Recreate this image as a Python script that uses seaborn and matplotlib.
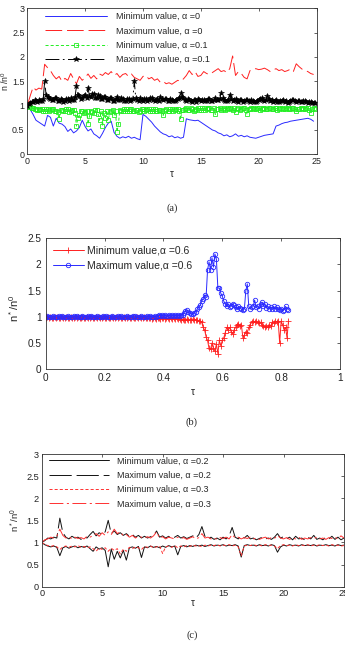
import numpy as np
import matplotlib
matplotlib.use("Agg")
import matplotlib.pyplot as plt
import seaborn as sns

sns.set_style("white")
plt.rcParams['font.family'] = ['Liberation Sans', 'DejaVu Sans']
plt.rcParams['mathtext.fontset'] = 'custom'
plt.rcParams['mathtext.rm'] = 'Liberation Sans'
plt.rcParams['mathtext.it'] = 'Liberation Sans:italic'
plt.rcParams['lines.scale_dashes'] = False

# ---------------- data (a) ----------------
a_step = 0.25
a_min0 = [1.00, 0.92, 0.82, 0.70, 0.66, 0.62, 0.58, 0.80, 0.76, 0.58,
          0.74, 0.64, 0.62, 0.57, 0.47, 0.52, 0.44, 0.48, 0.55, 0.70,
          0.57, 0.48, 0.52, 0.42, 0.38, 0.33, 0.43, 0.55, 0.64, 0.68,
          0.45, 0.37, 0.33, 0.36, 0.34, 0.37, 0.33, 0.35, 0.32, 0.30,
          0.82, 0.78, 0.72, 0.66, 0.58, 0.52, 0.46, 0.42, 0.40, 0.36,
          0.38, 0.34, 0.36, 0.33, 0.35, 0.73, 0.71, 0.70, 0.69, 0.70,
          0.66, 0.62, 0.58, 0.54, 0.50, 0.48, 0.44, 0.42, 0.38, 0.40,
          0.36, 0.38, 0.42, 0.37, 0.39, 0.36, 0.38, 0.35, 0.34, 0.33,
          0.35, 0.37, 0.39, 0.40, 0.41, 0.42, 0.58, 0.60, 0.63, 0.65,
          0.66, 0.68, 0.69, 0.70, 0.71, 0.72, 0.73, 0.74, 0.72, 0.68]
a_max0 = [1.00, 1.20, 1.38, 1.32, 1.36, 1.34, 1.85, 1.78, 1.72, 1.62,
          1.55, 1.60, 1.50, 1.56, 1.52, 1.66, 1.55, 1.45, 1.60, 1.52,
          1.58, 1.65, 1.56, 1.62, 1.55, 1.65, 1.62, 1.68, 1.64, 1.70,
          1.62, 1.66, 1.58, 1.64, 1.66, 1.60, 1.65, 1.58, 1.55, 1.52,
          1.60, 1.62, 1.55, 1.58, 1.52, 1.55, 1.48, 1.50, 1.45, 1.47,
          1.44, 1.48, 1.52, 1.50, 1.55, 1.62, 1.72, 1.64, 1.70, 1.60,
          1.62, 1.70, 1.66, 1.64, 1.68, 1.72, 1.76, 1.70, 1.72, 1.68,
          1.76, 2.02, 1.62, 1.70, 1.66, 1.58, 1.55, 1.72, 1.74, 1.76,
          1.74, 1.75, 1.77, 1.74, 1.70, 1.73, 1.76, 1.72, 1.74, 1.70,
          1.72, 1.75, 1.70, 1.86, 1.80, 1.75, 1.72, 1.70, 1.66, 1.64]
a_step_fine = 0.125
a_min01 = [1.00, 0.98, 0.97, 0.95, 0.95, 0.93, 0.93, 0.91, 0.92, 0.94,
           0.94, 0.90, 0.90, 0.93, 0.93, 0.89, 0.91, 0.94, 0.94, 0.88,
           0.90, 0.86, 0.73, 0.91, 0.92, 0.88, 0.89, 0.93, 0.93, 0.87,
           0.88, 0.92, 0.92, 0.85, 0.58, 0.75, 0.80, 0.88, 0.90, 0.84,
           0.86, 0.90, 0.62, 0.78, 0.90, 0.86, 0.85, 0.91, 0.92, 0.82,
           0.70, 0.88, 0.58, 0.84, 0.75, 0.90, 0.70, 0.86, 0.88, 0.91,
           0.80, 0.88, 0.46, 0.62, 0.92, 0.90, 0.89, 0.93, 0.93, 0.88,
           0.90, 0.94, 0.94, 0.89, 0.88, 0.92, 0.92, 0.87, 0.90, 0.93,
           0.93, 0.90, 0.91, 0.94, 0.94, 0.89, 0.90, 0.93, 0.93, 0.88,
           0.89, 0.92, 0.92, 0.88, 0.80, 0.91, 0.93, 0.89, 0.90, 0.94,
           0.94, 0.90, 0.91, 0.93, 0.93, 0.90, 0.72, 0.91, 0.92, 0.94,
           0.95, 0.92, 0.92, 0.95, 0.94, 0.90, 0.91, 0.94, 0.95, 0.92,
           0.92, 0.95, 0.95, 0.91, 0.93, 0.96, 0.96, 0.92, 0.92, 0.95,
           0.82, 0.93, 0.94, 0.96, 0.92, 0.94, 0.95, 0.92, 0.93, 0.96,
           0.96, 0.93, 0.92, 0.95, 0.86, 0.94, 0.95, 0.92, 0.93, 0.96,
           0.96, 0.92, 0.82, 0.94, 0.94, 0.96, 0.96, 0.93, 0.93, 0.95,
           0.95, 0.92, 0.93, 0.96, 0.96, 0.93, 0.94, 0.96, 0.96, 0.93,
           0.93, 0.95, 0.95, 0.92, 0.94, 0.96, 0.96, 0.93, 0.93, 0.95,
           0.95, 0.93, 0.94, 0.96, 0.96, 0.93, 0.88, 0.94, 0.94, 0.96,
           0.96, 0.93, 0.94, 0.96, 0.96, 0.92, 0.85, 0.93, 0.95, 0.94]
a_max01 = [1.00, 1.03, 1.05, 1.07, 1.08, 1.11, 1.10, 1.08, 1.12, 1.10,
           1.09, 1.13, 1.50, 1.22, 1.18, 1.15, 1.14, 1.11, 1.12, 1.16,
           1.15, 1.09, 1.10, 1.14, 1.12, 1.08, 1.09, 1.13, 1.14, 1.10,
           1.16, 1.12, 1.12, 1.18, 1.40, 1.22, 1.20, 1.14, 1.15, 1.19,
           1.22, 1.16, 1.36, 1.20, 1.18, 1.24, 1.24, 1.15, 1.15, 1.21,
           1.20, 1.14, 1.13, 1.18, 1.17, 1.12, 1.12, 1.16, 1.15, 1.10,
           1.10, 1.14, 1.18, 1.12, 1.12, 1.15, 1.14, 1.09, 1.10, 1.13,
           1.13, 1.09, 1.11, 1.14, 1.50, 1.16, 1.12, 1.10, 1.15, 1.12,
           1.10, 1.13, 1.14, 1.10, 1.12, 1.15, 1.16, 1.11, 1.10, 1.12,
           1.13, 1.10, 1.18, 1.13, 1.11, 1.14, 1.14, 1.09, 1.10, 1.13,
           1.12, 1.09, 1.09, 1.12, 1.13, 1.16, 1.25, 1.17, 1.15, 1.11,
           1.10, 1.13, 1.12, 1.09, 1.08, 1.11, 1.11, 1.08, 1.14, 1.12,
           1.09, 1.12, 1.12, 1.09, 1.10, 1.13, 1.13, 1.10, 1.09, 1.12,
           1.15, 1.11, 1.11, 1.14, 1.25, 1.16, 1.12, 1.09, 1.09, 1.12,
           1.22, 1.13, 1.10, 1.12, 1.13, 1.10, 1.08, 1.11, 1.11, 1.08,
           1.09, 1.12, 1.12, 1.09, 1.08, 1.11, 1.10, 1.08, 1.07, 1.10,
           1.11, 1.13, 1.15, 1.11, 1.09, 1.12, 1.20, 1.14, 1.10, 1.12,
           1.08, 1.10, 1.11, 1.08, 1.07, 1.09, 1.10, 1.12, 1.08, 1.10,
           1.06, 1.08, 1.09, 1.11, 1.12, 1.10, 1.08, 1.09, 1.10, 1.08,
           1.07, 1.09, 1.09, 1.07, 1.06, 1.08, 1.08, 1.06, 1.05, 1.06]
a_labels = ["Minimum value, α =0", "Maximum value, α =0",
            "Minimum value, α =0.1", "Maximum value, α =0.1"]
a_xticks = [0, 5, 10, 15, 20, 25]
a_yticks = [0, 0.5, 1, 1.5, 2, 2.5, 3]
a_yticklabels = ["0", "0.5", "1", "1.5", "2", "2.5", "3"]

# ---------------- data (b) ----------------
b_step = 0.005
b_min06 = [0.98, 0.99, 0.97, 1.00, 0.98, 0.97, 0.99, 0.98, 1.00, 0.97,
           0.98, 0.99, 0.97, 0.98, 1.00, 0.98, 0.97, 0.99, 0.98, 0.97,
           0.99, 0.98, 1.00, 0.97, 0.98, 0.99, 0.97, 0.98, 1.00, 0.98,
           0.97, 0.99, 0.98, 0.97, 0.99, 0.98, 1.00, 0.97, 0.98, 0.99,
           0.97, 0.98, 1.00, 0.98, 0.97, 0.99, 0.98, 0.97, 0.99, 0.98,
           1.00, 0.97, 0.98, 0.99, 0.97, 0.98, 1.00, 0.98, 0.97, 0.99,
           0.98, 0.97, 0.99, 0.98, 1.00, 0.97, 0.98, 0.99, 0.97, 0.98,
           0.97, 0.98, 0.96, 0.97, 0.98, 0.96, 0.97, 0.98, 0.96, 0.97,
           0.98, 0.96, 0.97, 0.98, 0.96, 0.97, 0.96, 0.97, 0.96, 0.97,
           0.96,
           0.96, 0.95, 0.96, 0.95, 0.94, 0.96, 0.95, 0.94, 0.95, 0.96,
           0.94, 0.95, 0.94,
           0.93, 0.92, 0.90, 0.80, 0.75, 0.62, 0.55, 0.40, 0.38, 0.50,
           0.40, 0.35, 0.48, 0.30, 0.55, 0.45, 0.55, 0.60, 0.70, 0.80,
           0.75, 0.80, 0.72, 0.68, 0.75, 0.80, 0.85, 0.87, 0.82, 0.85,
           0.60, 0.65, 0.72, 0.70, 0.80, 0.85, 0.90, 0.92, 0.90, 0.92,
           0.90, 0.88, 0.90, 0.85, 0.83, 0.80, 0.82, 0.80, 0.85, 0.83,
           0.90, 0.88, 0.92, 0.90, 0.92, 0.50, 0.92, 0.85, 0.75, 0.80,
           0.60, 0.92]
b_max06 = [1.00, 1.01, 1.00, 0.99, 1.00, 1.01, 1.00, 1.00, 0.99, 1.01,
           1.00, 1.01, 1.00, 0.99, 1.00, 1.01, 1.00, 1.00, 0.99, 1.01,
           1.00, 1.01, 1.00, 0.99, 1.00, 1.01, 1.00, 1.00, 0.99, 1.01,
           1.00, 1.01, 1.00, 0.99, 1.00, 1.01, 1.00, 1.00, 0.99, 1.01,
           1.00, 1.01, 1.00, 0.99, 1.00, 1.01, 1.00, 1.00, 0.99, 1.01,
           1.00, 1.01, 1.00, 0.99, 1.00, 1.01, 1.00, 1.00, 0.99, 1.01,
           1.00, 1.01, 1.00, 0.99, 1.00, 1.01, 1.00, 1.00, 0.99, 1.01,
           1.00, 1.01, 1.00, 1.00, 1.01, 1.00,
           1.02, 1.03, 1.02, 1.03, 1.02, 1.03, 1.02, 1.02, 1.03, 1.02,
           1.03, 1.02, 1.03, 1.02, 1.03, 1.02, 1.03,
           1.04, 1.08, 1.12, 1.13, 1.10, 1.07, 1.05, 1.06, 1.08, 1.10,
           1.15, 1.18, 1.22, 1.30, 1.35, 1.42, 1.38, 1.90, 2.05, 1.90,
           2.13, 1.95, 2.20, 2.10, 1.55, 1.55, 1.45, 1.40, 1.30, 1.25,
           1.20, 1.25, 1.18, 1.20, 1.25, 1.22, 1.18, 1.15, 1.20, 1.17,
           1.15, 1.14, 1.15, 1.50, 1.63, 1.20, 1.15, 1.18, 1.20, 1.32,
           1.18, 1.20, 1.16, 1.24, 1.28, 1.20, 1.25, 1.17, 1.20, 1.16,
           1.18, 1.16, 1.20, 1.15, 1.18, 1.16, 1.14, 1.15, 1.12, 1.14,
           1.20, 1.16, 1.14]
b_labels = ["Minimum value,α =0.6", "Maximum value,α =0.6"]
b_xticks = [0, 0.2, 0.4, 0.6, 0.8, 1]
b_xticklabels = ["0", "0.2", "0.4", "0.6", "0.8", "1"]
b_yticks = [0, 0.5, 1, 1.5, 2, 2.5]
b_yticklabels = ["0", "0.5", "1", "1.5", "2", "2.5"]

# ---------------- data (c) ----------------
c_step = 0.25
c_min02 = [1.00, 0.95, 0.92, 0.90, 0.92, 0.89, 0.70, 0.88, 0.91, 0.87,
           0.90, 0.92, 0.88, 0.91, 0.89, 0.92, 0.86, 0.80, 0.90, 0.85,
           0.88, 0.82, 0.45, 0.85, 0.62, 0.80, 0.65, 0.82, 0.60, 0.88,
           0.90, 0.87, 0.91, 0.66, 0.90, 0.88, 0.92, 0.89, 0.91, 0.88,
           0.92, 0.89, 0.93, 0.90, 0.92, 0.72, 0.91, 0.93, 0.90, 0.93,
           0.91, 0.94, 0.92, 0.94, 0.91, 0.93, 0.95, 0.92, 0.94, 0.93,
           0.95, 0.92, 0.94, 0.93, 0.95, 0.92, 0.67, 0.93, 0.95, 0.93,
           0.94, 0.92, 0.95, 0.93, 0.94, 0.92, 0.95, 0.93, 0.78, 0.90,
           0.94, 0.92, 0.95, 0.93, 0.94, 0.92, 0.95, 0.93, 0.94, 0.93,
           0.95, 0.92, 0.94, 0.93, 0.95, 0.93, 0.94, 0.92, 0.95, 0.93,
           0.94]
c_max02 = [1.00, 1.04, 1.10, 1.08, 1.12, 1.10, 1.55, 1.22, 1.12, 1.08,
           1.14, 1.10, 1.12, 1.07, 1.13, 1.10, 1.18, 1.25, 1.15, 1.22,
           1.18, 1.24, 1.50, 1.20, 1.26, 1.18, 1.22, 1.16, 1.20, 1.14,
           1.18, 1.12, 1.16, 1.10, 1.14, 1.10, 1.13, 1.16, 1.26, 1.12,
           1.15, 1.10, 1.14, 1.08, 1.12, 1.16, 1.10, 1.13, 1.09, 1.12,
           1.15, 1.10, 1.18, 1.36, 1.14, 1.08, 1.12, 1.07, 1.10, 1.06,
           1.12, 1.08, 1.15, 1.34, 1.12, 1.08, 1.15, 1.10, 1.16, 1.08,
           1.10, 1.06, 1.09, 1.12, 1.08, 1.10, 1.07, 1.12, 1.20, 1.10,
           1.13, 1.08, 1.12, 1.06, 1.14, 1.08, 1.10, 1.06, 1.12, 1.08,
           1.16, 1.07, 1.10, 1.06, 1.12, 1.08, 1.14, 1.07, 1.12, 1.06,
           1.10]
c_min03 = [1.00, 0.96, 0.93, 0.91, 0.93, 0.90, 0.84, 0.90, 0.92, 0.89,
           0.92, 0.90, 0.93, 0.89, 0.91, 0.88, 0.90, 0.86, 0.80, 0.88,
           0.84, 0.88, 0.80, 0.87, 0.82, 0.86, 0.74, 0.85, 0.80, 0.89,
           0.86, 0.90, 0.88, 0.84, 0.91, 0.89, 0.92, 0.88, 0.90, 0.92,
           0.75, 0.90, 0.92, 0.89, 0.93, 0.88, 0.92, 0.90, 0.93, 0.91,
           0.94, 0.92, 0.93, 0.90, 0.94, 0.92, 0.94, 0.93, 0.95, 0.92,
           0.94, 0.93, 0.95, 0.92, 0.94, 0.90, 0.70, 0.92, 0.94, 0.93,
           0.95, 0.93, 0.94, 0.92, 0.95, 0.93, 0.94, 0.92, 0.86, 0.93,
           0.95, 0.93, 0.94, 0.92, 0.95, 0.93, 0.94, 0.93, 0.95, 0.92,
           0.94, 0.93, 0.95, 0.93, 0.94, 0.92, 0.95, 0.93, 0.94, 0.92,
           0.93]
c_max03 = [1.00, 1.06, 1.08, 1.12, 1.10, 1.14, 1.30, 1.16, 1.10, 1.13,
           1.08, 1.12, 1.09, 1.11, 1.08, 1.14, 1.12, 1.16, 1.20, 1.14,
           1.22, 1.16, 1.24, 1.18, 1.30, 1.20, 1.24, 1.15, 1.18, 1.12,
           1.16, 1.10, 1.14, 1.12, 1.10, 1.13, 1.10, 1.15, 1.24, 1.10,
           1.13, 1.08, 1.12, 1.10, 1.08, 1.12, 1.09, 1.11, 1.07, 1.10,
           1.13, 1.08, 1.11, 1.20, 1.10, 1.12, 1.08, 1.10, 1.07, 1.11,
           1.09, 1.12, 1.08, 1.18, 1.10, 1.12, 1.08, 1.11, 1.09, 1.12,
           1.08, 1.10, 1.07, 1.10, 1.12, 1.08, 1.11, 1.09, 1.16, 1.10,
           1.08, 1.11, 1.07, 1.10, 1.08, 1.12, 1.07, 1.10, 1.08, 1.11,
           1.09, 1.12, 1.08, 1.10, 1.07, 1.11, 1.09, 1.12, 1.08, 1.15,
           1.10]
c_labels = ["Minimum value, α =0.2", "Maximum value, α =0.2",
            "Minimum value, α =0.3", "Maximum value, α =0.3"]
c_xticks = [0, 5, 10, 15, 20, 25]
c_yticks = [0, 0.5, 1, 1.5, 2, 2.5, 3]
c_yticklabels = ["0", "0.5", "1", "1.5", "2", "2.5", "3"]

# ---------------- drawing helpers ----------------
W, H = 345, 652
fig = plt.figure(figsize=(W / 100, H / 100), dpi=100)


def px_axes(left, top, right, bottom):
    return fig.add_axes([left / W, 1 - bottom / H, (right - left) / W, (bottom - top) / H])


def draw(ax, vals, step, color, lw=0.7, dashes=None, **kw):
    x = np.arange(len(vals)) * step
    sns.lineplot(x=x, y=np.asarray(vals), ax=ax, color=color, linewidth=lw,
                 estimator=None, sort=False, legend=False, **kw)
    line = ax.lines[-1]
    if dashes is not None:
        line.set_dashes(dashes)
    return line


def style_axes(ax, tick_fs):
    for s in ax.spines.values():
        s.set_linewidth(0.6)
        s.set_color('#333333')
        s.set_visible(True)
    ax.tick_params(direction='in', top=True, right=True, length=2.5, width=0.5,
                   labelsize=tick_fs, pad=2, colors='#222222')
    ax.set_facecolor('white')


# ---------------- (a) ----------------
ax1 = px_axes(27.3, 8.3, 316.5, 154.3)
h = []
h.append(draw(ax1, a_min0, a_step, '#2a2aff'))
h.append(draw(ax1, a_max0, a_step, '#ff2020', dashes=(12, 3.5)))
h.append(draw(ax1, a_min01, a_step_fine, '#22ee22', dashes=(2.2, 1.5), marker='s',
              markersize=3.0, markerfacecolor='none', markeredgecolor='#22ee22',
              markeredgewidth=0.6))
h.append(draw(ax1, a_max01, a_step_fine, 'black', dashes=(10, 2.5, 1.2, 2.5), marker='*',
              markersize=4.0, markerfacecolor='black', markeredgecolor='black',
              markeredgewidth=0.4))
ax1.set_xlim(0, 25)
ax1.set_ylim(0, 3)
ax1.set_xticks(a_xticks)
ax1.set_yticks(a_yticks)
ax1.set_yticklabels(a_yticklabels)
style_axes(ax1, 6.4)
ax1.legend(h, a_labels, loc='upper left', bbox_to_anchor=(0.061, 0.975), frameon=False,
           fontsize=6.5, handlelength=6.9, handletextpad=0.95, labelspacing=0.6,
           borderpad=0, borderaxespad=0, numpoints=1)
ax1.set_xlabel("τ", fontsize=7)
ax1.xaxis.set_label_coords(0.5, -0.10)
ax1.set_ylabel("n /n$^0$", fontsize=6.3)
ax1.yaxis.set_label_coords(-0.057, 0.5)
fig.text(172 / W, 1 - 208 / H, "(a)", family='Liberation Serif', fontsize=7.5,
         ha='center', va='center')

# ---------------- (b) ----------------
ax2 = px_axes(45.7, 238.3, 340, 369.3)
h2 = []
h2.append(draw(ax2, b_min06, b_step, '#ff2020', lw=0.7, marker='+', markersize=4.5,
               markeredgecolor='#ff2020', markeredgewidth=0.6))
h2.append(draw(ax2, b_max06, b_step, '#2a2aff', lw=0.7, marker='o', markersize=3.2,
               markerfacecolor='none', markeredgecolor='#2a2aff', markeredgewidth=0.6))
ax2.set_xlim(0, 1)
ax2.set_ylim(0, 2.5)
ax2.set_xticks(b_xticks)
ax2.set_xticklabels(b_xticklabels)
ax2.set_yticks(b_yticks)
ax2.set_yticklabels(b_yticklabels)
style_axes(ax2, 7.2)
ax2.tick_params(pad=3)
ax2.legend(h2, b_labels, loc='upper left', bbox_to_anchor=(0.024, 0.945), frameon=False,
           fontsize=7.5, handlelength=3.0, handletextpad=0.25, labelspacing=0.5,
           borderpad=0, borderaxespad=0, numpoints=1)
ax2.set_xlabel("τ", fontsize=7.5)
ax2.xaxis.set_label_coords(0.5, -0.135)
ax2.set_ylabel("n$^*$/n$^0$", fontsize=8)
ax2.yaxis.set_label_coords(-0.085, 0.47)
fig.text(192 / W, 1 - 421.7 / H, "(b)", family='Liberation Serif', fontsize=7.5,
         ha='center', va='center')

# ---------------- (c) ----------------
ax3 = px_axes(41.7, 454, 344, 586.7)
h3 = []
h3.append(draw(ax3, c_min02, c_step, '#111111'))
h3.append(draw(ax3, c_max02, c_step, '#111111', dashes=(16, 3.5)))
h3.append(draw(ax3, c_min03, c_step, '#ff3030', dashes=(2.2, 1.5)))
h3.append(draw(ax3, c_max03, c_step, '#ff3030', dashes=(10, 2.5, 1.5, 2.5)))
ax3.set_xlim(0, 25)
ax3.set_ylim(0, 3)
ax3.set_xticks(c_xticks)
ax3.set_yticks(c_yticks)
ax3.set_yticklabels(c_yticklabels)
style_axes(ax3, 6.6)
ax3.legend(h3, c_labels, loc='upper left', bbox_to_anchor=(0.025, 0.982), frameon=False,
           fontsize=6.5, handlelength=6.6, handletextpad=0.85, labelspacing=0.6,
           borderpad=0, borderaxespad=0, numpoints=1)
ax3.set_xlabel("τ", fontsize=7)
ax3.xaxis.set_label_coords(0.5, -0.085)
ax3.set_ylabel("n$^*$/n$^0$", fontsize=6.8)
ax3.yaxis.set_label_coords(-0.065, 0.5)
fig.text(192 / W, 1 - 635 / H, "(c)", family='Liberation Serif', fontsize=7.5,
         ha='center', va='center')

fig.savefig("out.png", dpi=100, facecolor='white')
